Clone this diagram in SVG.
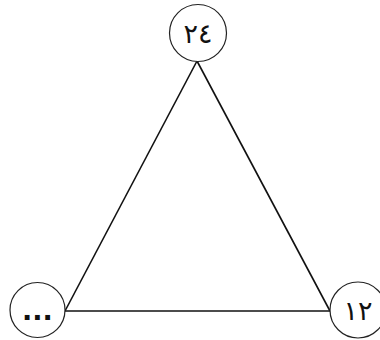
<svg xmlns="http://www.w3.org/2000/svg" width="380" height="340" viewBox="0 0 380 340">
<style>
.node circle{fill:#fff;stroke:#222;stroke-width:1.2}
.node text{font-family:"DejaVu Sans","Noto Sans",sans-serif;font-size:27px;fill:#111;text-anchor:middle;dominant-baseline:central}
.edges line{stroke:#111;stroke-width:1.6}
</style>
<rect width="380" height="340" fill="#fff"/>
<g class="edges">
<line x1="197" y1="61" x2="65" y2="311"/>
<line x1="197" y1="61" x2="330" y2="311"/>
<line x1="65" y1="311" x2="330" y2="311"/>
</g>
<g id="n24" class="node"><circle cx="198" cy="33" r="28.5"/><text x="198" y="33">٢٤</text></g>
<g id="nDots" class="node"><circle cx="37.5" cy="310" r="27.5"/><text x="37.5" y="310" font-size="22" font-weight="bold">...</text></g>
<g id="n12" class="node"><circle cx="358" cy="310" r="28"/><text x="358" y="310">١٢</text></g>
</svg>
